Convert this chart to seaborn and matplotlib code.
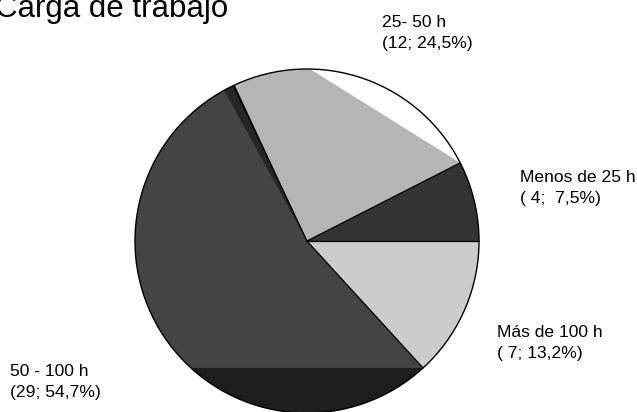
import numpy as np
import matplotlib
matplotlib.use('Agg')
import matplotlib.pyplot as plt
from matplotlib.patches import Polygon, Circle, Wedge
import seaborn as sns

# data, counter-clockwise from 3 o'clock
categories = ['Menos de 25 h', '25- 50 h', '50 - 100 h', 'Más de 100 h']
counts = [4, 12, 29, 7]
percent = [7.5, 24.5, 54.7, 13.2]
value_labels = ['( 4;  7,5%)', '(12; 24,5%)', '(29; 54,7%)', '( 7; 13,2%)']

sns.set_theme(style='white')
plt.rcParams['font.family'] = ['Liberation Sans', 'DejaVu Sans']

colors = ['#333333', '#b5b5b5', '#444444', '#cccccc']

W, H = 637, 412
fig = plt.figure(figsize=(W / 100, H / 100), dpi=100)
ax = fig.add_axes([0, 0, 1, 1])

wedges, _ = ax.pie(percent, colors=colors, startangle=0, counterclock=True,
                   radius=1, wedgeprops=dict(edgecolor='none', linewidth=0))

# pie centre at pixel (307, 241), radius 172 px
cx, cy, R = 307, 241, 172
ax.set_xlim(-cx / R, (W - cx) / R)
ax.set_ylim(-(H - cy) / R, cy / R)
ax.set_aspect('equal')
ax.axis('off')

bounds = np.cumsum([0] + percent) / sum(percent) * 360


def segment(t1, t2, color):
    t = np.radians(np.linspace(t1, t2, 100))
    pts = np.column_stack([np.cos(t), np.sin(t)])
    ax.add_patch(Polygon(pts, closed=True, facecolor=color, edgecolor='none', zorder=3))


# washed-out rendering of the old chart: white cap in 25-50, dark band at bottom
segment(bounds[1], 89, 'white')
segment(540 - bounds[3], bounds[3], '#1e1e1e')
ax.add_patch(Wedge((0, 0), 1, bounds[2] - 0.5, bounds[2] + 3.5, facecolor='#262626',
                   edgecolor='none', zorder=3))

# slice borders and outline
for a in bounds[:-1]:
    t = np.radians(a)
    ax.plot([0, np.cos(t)], [0, np.sin(t)], color='black', lw=0.9, zorder=4)
ax.add_patch(Circle((0, 0), 1, facecolor='none', edgecolor='black', lw=1.0, zorder=5))

# title
fig.text(228 / W, 1 - 17 / H, 'Carga de trabajo', fontsize=22.5, color='black',
         ha='right', va='baseline')

# labels (left x px, centre y px)
label_pos = [(520, 188), (382, 33), (10, 382), (497, 343)]
for (lx, ly), name, val in zip(label_pos, categories, value_labels):
    fig.text(lx / W, 1 - ly / H, name + '\n' + val, fontsize=12.6, color='black',
             ha='left', va='center', linespacing=1.45)

fig.savefig('out.png', dpi=100)
